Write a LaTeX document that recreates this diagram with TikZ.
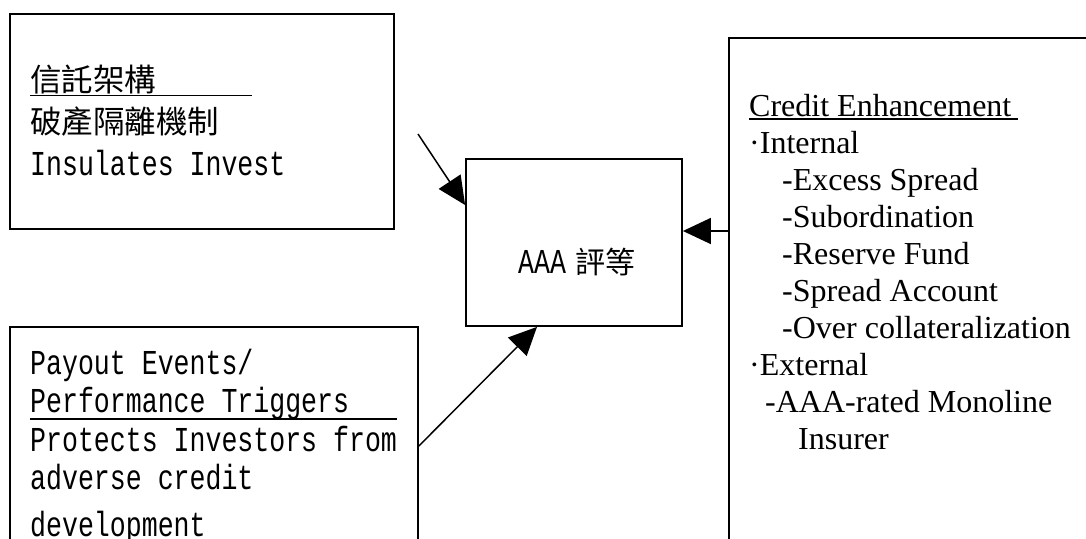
\documentclass[tikz,border=0pt]{standalone}
\usepackage{fontspec}
\usepackage{tikz}
\usetikzlibrary{arrows.meta, positioning}
\setmainfont{Liberation Serif}
\newfontfamily\monofnt[FakeStretch=0.76, Scale=1.11]{Liberation Mono}
\newfontfamily\cjkfnt{Noto Sans CJK TC}
\newcommand{\ulbar}[2]{\rlap{\rule[#1]{#2}{1.5pt}}}

\begin{document}
\begin{tikzpicture}[
      x=1pt, y=-1pt,
      frame/.style={draw, line width=1.8pt, inner sep=0pt},
      txt/.style={anchor=base west, align=left, inner sep=0pt},
      arr/.style={-{Triangle[length=28pt, width=26pt]}, line width=1.5pt}
    ]
      \useasboundingbox (0,0) rectangle (1086,538);
      \clip (0,0) rectangle (1086,538);

      % boxes
      \node[frame, minimum width=384pt, minimum height=215pt] (trust) at (202,121.5) {};
      \node[frame, minimum width=408pt, minimum height=293pt] (pay) at (214,473.5) {};
      \node[frame, minimum width=401pt, minimum height=582pt] (ce) at (929.5,329) {};
      \node[frame, minimum width=216pt, minimum height=167pt] (aaa) at (574,242.5) {};

      % texts (base = last line)
      \node[txt, font=\fontsize{31.5pt}{42pt}\selectfont] (trusttxt) at (30,175)
        {\cjkfnt\ulbar{-5pt}{222pt}信託架構\\
         \cjkfnt 破產隔離機制\\
         \monofnt Insulates Invest};
      \node[txt, font=\fontsize{31.5pt}{38.5pt}\selectfont\monofnt] (paytxt) at (30,536)
        {Payout Events/\\
         \ulbar{-7pt}{367pt}Performance Triggers\\
         Protects Investors from\\
         adverse credit\\[8pt]
         development};
      \node[txt, font=\fontsize{32pt}{36.9pt}\selectfont] (cetxt) at (749,449)
        {\ulbar{-3pt}{269pt}Credit Enhancement\\
         ·Internal\\
         \hspace*{33pt}-Excess Spread\\
         \hspace*{33pt}-Subordination\\
         \hspace*{33pt}-Reserve Fund\\
         \hspace*{33pt}-Spread Account\\
         \hspace*{33pt}-Over collateralization\\
         ·External\\
         \hspace*{16pt}-AAA-rated Monoline\\
         \hspace*{49pt}Insurer};
      \node[txt, font=\fontsize{31.5pt}{38pt}\selectfont] (aaatxt) at (518,273)
        {{\monofnt AAA}\hspace{9pt}{\cjkfnt\fontsize{30pt}{36pt}\selectfont 評等}};

      % arrows
      \coordinate (s1) at (418,134);
      \draw[arr] (s1) -- ([yshift=37.5pt]aaa.west);
      \draw[arr] ([yshift=27.5pt]pay.east) -- ([xshift=-37pt]aaa.south);
      \draw[arr] ([yshift=98pt]ce.west) -- ([yshift=11.5pt]aaa.east);
    \end{tikzpicture}
\end{document}
